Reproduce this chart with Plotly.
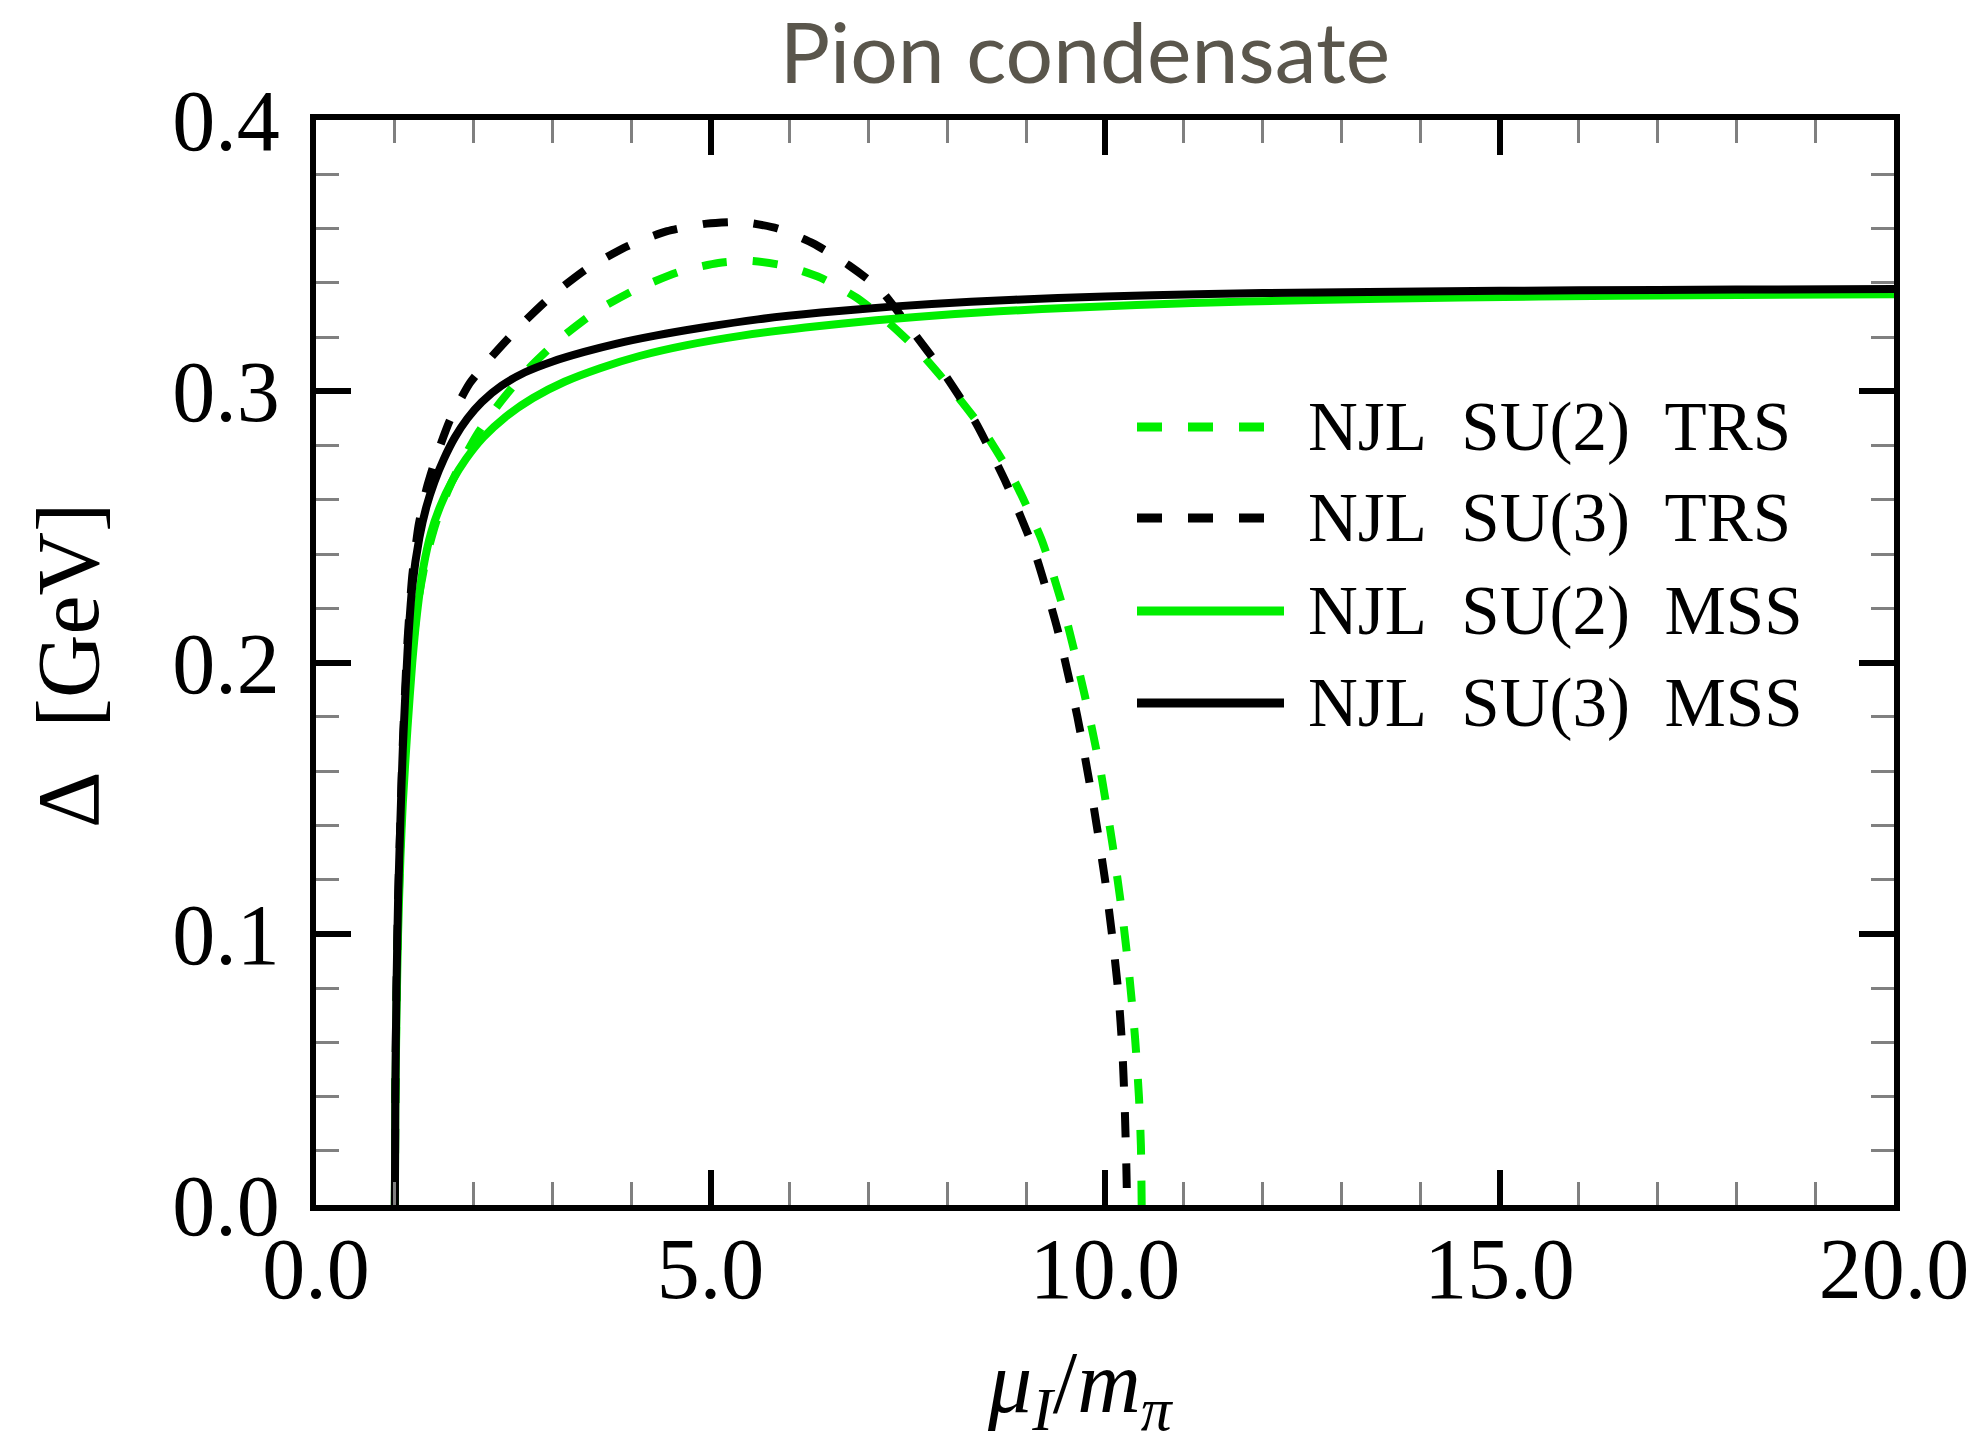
import plotly.graph_objects as go

# ---- data: gap Δ [GeV] versus μ_I / m_π ----
mu_su2_trs = [1.0, 1.005, 1.02, 1.04, 1.07, 1.10, 1.16, 1.22, 1.30, 1.40, 1.52, 1.66, 1.82, 2.05,
              2.35, 2.70, 3.10, 3.55, 4.05, 4.60, 5.10, 5.50, 5.95, 6.40, 6.85, 7.25, 7.65, 8.05,
              8.45, 8.85, 9.20, 9.50, 9.75, 9.95, 10.10, 10.22, 10.31, 10.38, 10.43, 10.455,
              10.465]
delta_su2_trs = [0.0, 0.037, 0.074, 0.104, 0.133, 0.155, 0.184, 0.204, 0.2235, 0.239, 0.2515,
                 0.2625, 0.2725, 0.2845, 0.2965, 0.3085, 0.3195, 0.3295, 0.3375, 0.3440, 0.3473,
                 0.3481, 0.3462, 0.3418, 0.3345, 0.3255, 0.3145, 0.3010, 0.2860, 0.2670, 0.2450,
                 0.2170, 0.1870, 0.1590, 0.1320, 0.1070, 0.0840, 0.0620, 0.0400, 0.0220, 0.0]

mu_su3_trs = [1.0, 1.005, 1.02, 1.04, 1.07, 1.10, 1.16, 1.22, 1.30, 1.40, 1.52, 1.70, 1.95, 2.25,
              2.60, 3.00, 3.45, 3.95, 4.45, 4.95, 5.40, 5.85, 6.30, 6.75, 7.15, 7.55, 7.95, 8.35,
              8.75, 9.10, 9.40, 9.65, 9.85, 10.00, 10.10, 10.17, 10.22, 10.25, 10.27, 10.28]
delta_su3_trs = [0.0, 0.040, 0.080, 0.112, 0.142, 0.170, 0.208, 0.232, 0.2505, 0.264, 0.2755,
                 0.2895, 0.3030, 0.3135, 0.3245, 0.3355, 0.3455, 0.3535, 0.3590, 0.3618, 0.3624,
                 0.3600, 0.3545, 0.3465, 0.3375, 0.3225, 0.3070, 0.2890, 0.2660, 0.2415, 0.2120,
                 0.1800, 0.1480, 0.1200, 0.0970, 0.0780, 0.0570, 0.0360, 0.0150, 0.0]

mu_su2_mss = [1.0, 1.005, 1.02, 1.04, 1.07, 1.10, 1.16, 1.22, 1.28, 1.36, 1.46, 1.58, 1.72, 1.90,
              2.12, 2.40, 2.75, 3.15, 3.60, 4.10, 4.70, 5.40, 6.20, 7.10, 8.10, 9.20, 10.4, 11.8,
              13.5, 15.5, 17.5, 20.0]
delta_su2_mss = [0.0, 0.035, 0.070, 0.100, 0.128, 0.148, 0.176, 0.200, 0.218, 0.235, 0.248, 0.258,
                 0.2666, 0.2750, 0.2830, 0.2905, 0.2975, 0.3035, 0.3085, 0.3130, 0.3170, 0.3205,
                 0.3235, 0.3262, 0.3285, 0.3303, 0.3318, 0.3331, 0.3341, 0.3349, 0.3354, 0.3358]

mu_su3_mss = [1.0, 1.005, 1.02, 1.04, 1.07, 1.10, 1.16, 1.22, 1.31, 1.40, 1.50, 1.62, 1.76, 1.92,
              2.10, 2.35, 2.65, 3.00, 3.40, 3.80, 4.30, 4.90, 5.60, 6.40, 7.30, 8.30, 9.40, 10.6,
              12.0, 14.0, 16.0, 18.0, 20.0]
delta_su3_mss = [0.0, 0.040, 0.080, 0.112, 0.142, 0.168, 0.204, 0.228, 0.246, 0.2575, 0.2665,
                 0.2750, 0.2830, 0.2900, 0.2960, 0.3020, 0.3070, 0.3110, 0.3145, 0.3175, 0.3205,
                 0.3235, 0.3265, 0.3290, 0.3312, 0.3330, 0.3344, 0.3354, 0.3362, 0.3368, 0.3372,
                 0.3375, 0.3377]

series_names = ["NJL\u2002SU(2)\u2002TRS", "NJL\u2002SU(3)\u2002TRS",
                "NJL\u2002SU(2)\u2002MSS", "NJL\u2002SU(3)\u2002MSS"]
x_ticks = [0.0, 5.0, 10.0, 15.0, 20.0]
y_ticks = [0.0, 0.1, 0.2, 0.3, 0.4]

GREEN = "#00ee00"
BLACK = "#000000"
DASH = "25px,26px"
LW = 8

# ---- figure geometry (pixels) ----
W, H = 1981, 1443
L, R, T, B = 316, 1894, 120, 1205


def px_x(px):
    return (px - L) / (R - L)


def px_y(py):
    return (B - py) / (B - T)


fig = go.Figure()

curves = [
    (mu_su2_trs, delta_su2_trs, GREEN, DASH, series_names[0]),
    (mu_su3_trs, delta_su3_trs, BLACK, DASH, series_names[1]),
    (mu_su2_mss, delta_su2_mss, GREEN, "solid", series_names[2]),
    (mu_su3_mss, delta_su3_mss, BLACK, "solid", series_names[3]),
]
for xs, ys, col, dash, name in curves:
    fig.add_trace(go.Scatter(
        x=xs, y=ys, mode="lines", name=name, showlegend=False,
        line=dict(color=col, width=LW, dash=dash, shape="spline", smoothing=0.6),
    ))

tick_font = dict(family="Liberation Serif, Times New Roman, serif", size=86, color="black")

axis_common = dict(
    showline=True, linewidth=6, linecolor="black", mirror="allticks",
    ticks="inside", ticklen=35, tickwidth=6, tickcolor="black",
    showgrid=False, zeroline=False, tickfont=tick_font,
)

fig.update_xaxes(
    range=[0, 20], tickvals=x_ticks, ticktext=[f"{v:.1f}" for v in x_ticks],
    minor=dict(dtick=1, tick0=0, ticks="inside", ticklen=23, tickwidth=2.5,
               tickcolor="#808080", showgrid=False),
    ticklabelstandoff=-16,
    **axis_common,
)
fig.update_yaxes(
    range=[0, 0.4], tickvals=y_ticks, ticktext=[f"{v:.1f}" for v in y_ticks],
    minor=dict(dtick=0.02, tick0=0, ticks="inside", ticklen=23, tickwidth=2.5,
               tickcolor="#808080", showgrid=False),
    ticklabelstandoff=13,
    **axis_common,
)

# ---- hand-drawn legend ----
legend_rows = [427, 518, 611, 703]
legend_style = [(GREEN, DASH), (BLACK, DASH), (GREEN, "solid"), (BLACK, "solid")]
shapes = []
annotations = []
for name, row, (col, dash) in zip(series_names, legend_rows, legend_style):
    x_end = 1266 if dash != "solid" else 1284
    shapes.append(dict(type="line", xref="paper", yref="paper",
                       x0=px_x(1137), x1=px_x(x_end), y0=px_y(row), y1=px_y(row),
                       line=dict(color=col, width=9, dash=dash)))
    annotations.append(dict(xref="paper", yref="paper", x=px_x(1306), y=px_y(row),
                            xanchor="left", yanchor="middle", showarrow=False, text=name,
                            font=dict(family="Liberation Serif, serif", size=69, color="black")))

# ---- axis titles ----
annotations.append(dict(xref="paper", yref="paper", x=px_x(1080), y=px_y(1388),
                        xanchor="center", yanchor="middle", showarrow=False,
                        text="<i>μ</i><sub><i>I</i></sub>/<i>m</i><sub><i>π</i></sub>",
                        font=dict(family="Liberation Serif, serif", size=88, color="black")))
annotations.append(dict(xref="paper", yref="paper", x=px_x(68), y=px_y(666),
                        xanchor="center", yanchor="middle", showarrow=False, textangle=-90,
                        text="Δ\u2002[GeV]",
                        font=dict(family="Liberation Serif, serif", size=88, color="black")))

fig.update_layout(
    width=W, height=H,
    margin=dict(l=L, r=W - R, t=T, b=H - B, pad=0),
    paper_bgcolor="white", plot_bgcolor="white",
    title=dict(text="Pion condensate", x=1085 / W, xanchor="center",
               y=1 - 54 / H, yanchor="middle", yref="container",
               font=dict(family="Lato, Open Sans, sans-serif", size=84, color="#5a564c")),
    shapes=shapes, annotations=annotations,
    showlegend=False,
)

fig.write_html("out.html", config={"displayModeBar": False})
